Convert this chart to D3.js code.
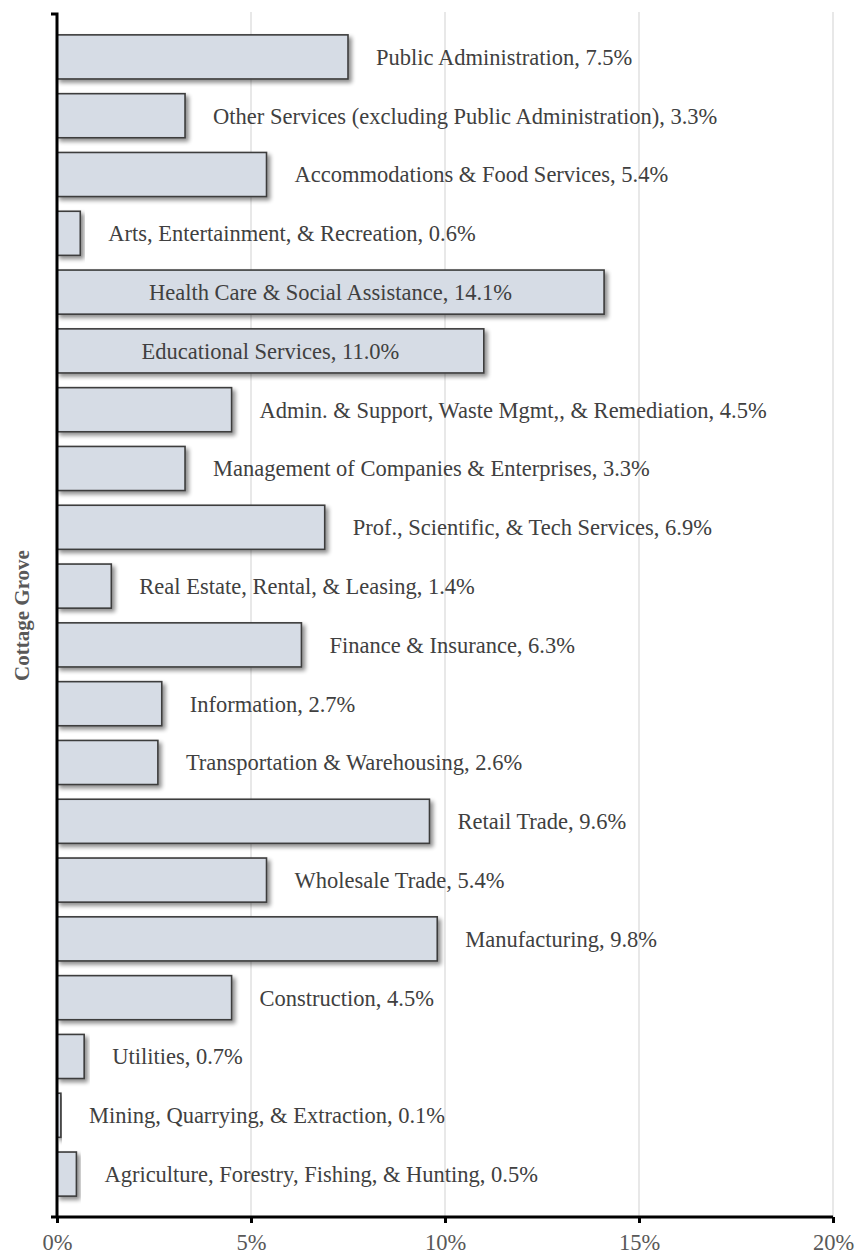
<!DOCTYPE html>
<html>
<head>
<meta charset="utf-8">
<script src="https://cdn.jsdelivr.net/npm/d3@7"></script>
<style>
  html, body { margin: 0; padding: 0; background: #fff; }
  svg { display: block; }
</style>
</head>
<body>
<div id="chart"></div>
<script>
// Employment by industry, Cottage Grove (share of jobs, %)
const industries = [
  "Public Administration",
  "Other Services (excluding Public Administration)",
  "Accommodations & Food Services",
  "Arts, Entertainment, & Recreation",
  "Health Care & Social Assistance",
  "Educational Services",
  "Admin. & Support, Waste Mgmt,, & Remediation",
  "Management of Companies & Enterprises",
  "Prof., Scientific, & Tech Services",
  "Real Estate, Rental, & Leasing",
  "Finance & Insurance",
  "Information",
  "Transportation & Warehousing",
  "Retail Trade",
  "Wholesale Trade",
  "Manufacturing",
  "Construction",
  "Utilities",
  "Mining, Quarrying, & Extraction",
  "Agriculture, Forestry, Fishing, & Hunting"
];
const shares = [7.5, 3.3, 5.4, 0.6, 14.1, 11.0, 4.5, 3.3, 6.9, 1.4, 6.3, 2.7, 2.6, 9.6, 5.4, 9.8, 4.5, 0.7, 0.1, 0.5];
const xTicks = [0, 5, 10, 15, 20];
const axisTitle = "Cottage Grove";

const W = 858, H = 1256;
const margin = { left: 57, right: 25, top: 14, bottom: 39 };
const serif = "'Liberation Serif', 'DejaVu Serif', serif";

const svg = d3.select("#chart").append("svg")
  .attr("width", W).attr("height", H);

// soft drop shadow under each bar
const defs = svg.append("defs");
const shadow = defs.append("filter").attr("id", "barShadow")
  .attr("x", "-10%").attr("y", "-20%").attr("width", "130%").attr("height", "160%");
shadow.append("feGaussianBlur").attr("in", "SourceAlpha").attr("stdDeviation", 2.2).attr("result", "blur");
shadow.append("feOffset").attr("in", "blur").attr("dx", 3).attr("dy", 3).attr("result", "off");
shadow.append("feComponentTransfer").attr("in", "off").attr("result", "soft")
  .append("feFuncA").attr("type", "linear").attr("slope", 0.45);
const merge = shadow.append("feMerge");
merge.append("feMergeNode").attr("in", "soft");
merge.append("feMergeNode").attr("in", "SourceGraphic");

const x = d3.scaleLinear().domain([0, 20]).range([margin.left, W - margin.right]);
const y = d3.scaleBand().domain(industries)
  .range([margin.top, H - margin.bottom])
  .paddingInner(0.25).paddingOuter(0.355);

const data = industries.map((name, i) => ({ name, value: shares[i] }));

// vertical gridlines
svg.append("g").selectAll("line").data(xTicks.filter(t => t > 0)).join("line")
  .attr("x1", d => x(d)).attr("x2", d => x(d))
  .attr("y1", margin.top - 2).attr("y2", H - margin.bottom)
  .attr("stroke", "#d9d9d9").attr("stroke-width", 1.2);

// bars
svg.append("g").selectAll("rect").data(data).join("rect")
  .attr("x", x(0))
  .attr("y", d => y(d.name))
  .attr("width", d => x(d.value) - x(0))
  .attr("height", y.bandwidth())
  .attr("fill", "#d6dce5")
  .attr("stroke", "#3c3c3c")
  .attr("stroke-width", 1.6)
  .attr("filter", "url(#barShadow)");

// value labels: inside the long bars, outside the rest
const insideLimit = 10.5;
svg.append("g").selectAll("text").data(data).join("text")
  .attr("x", d => d.value > insideLimit ? (x(0) + x(d.value)) / 2 : x(d.value) + 28)
  .attr("y", d => y(d.name) + y.bandwidth() / 2)
  .attr("dy", "0.35em")
  .attr("text-anchor", d => d.value > insideLimit ? "middle" : "start")
  .attr("font-family", serif)
  .attr("font-size", 22.5)
  .attr("fill", "#404040")
  .text(d => `${d.name}, ${d.value.toFixed(1)}%`);

// x axis
const xAxis = d3.axisBottom(x).tickValues(xTicks).tickFormat(d => d + "%").tickSize(6).tickSizeOuter(0);
const gx = svg.append("g").attr("transform", `translate(0,${H - margin.bottom})`).call(xAxis);
gx.select(".domain").attr("stroke", "#000").attr("stroke-width", 3)
  .attr("d", `M${x(0) - 6},0H${x(20)}`);
gx.selectAll(".tick line").attr("stroke", "#000").attr("stroke-width", 3);
gx.selectAll(".tick text")
  .attr("font-family", serif).attr("font-size", 22.5).attr("fill", "#595959").attr("dy", "1.08em");

// y axis line with a short tick at its top
const gy = svg.append("g");
gy.append("path")
  .attr("d", `M${x(0) - 6},${margin.top}H${x(0)}V${H - margin.bottom}`)
  .attr("fill", "none").attr("stroke", "#000").attr("stroke-width", 3);

// axis title
svg.append("text")
  .attr("transform", `translate(22,${(margin.top + H - margin.bottom) / 2}) rotate(-90)`)
  .attr("text-anchor", "middle")
  .attr("dy", "0.35em")
  .attr("font-family", serif)
  .attr("font-weight", "bold")
  .attr("font-size", 21)
  .attr("fill", "#595959")
  .text(axisTitle);
</script>
</body>
</html>
